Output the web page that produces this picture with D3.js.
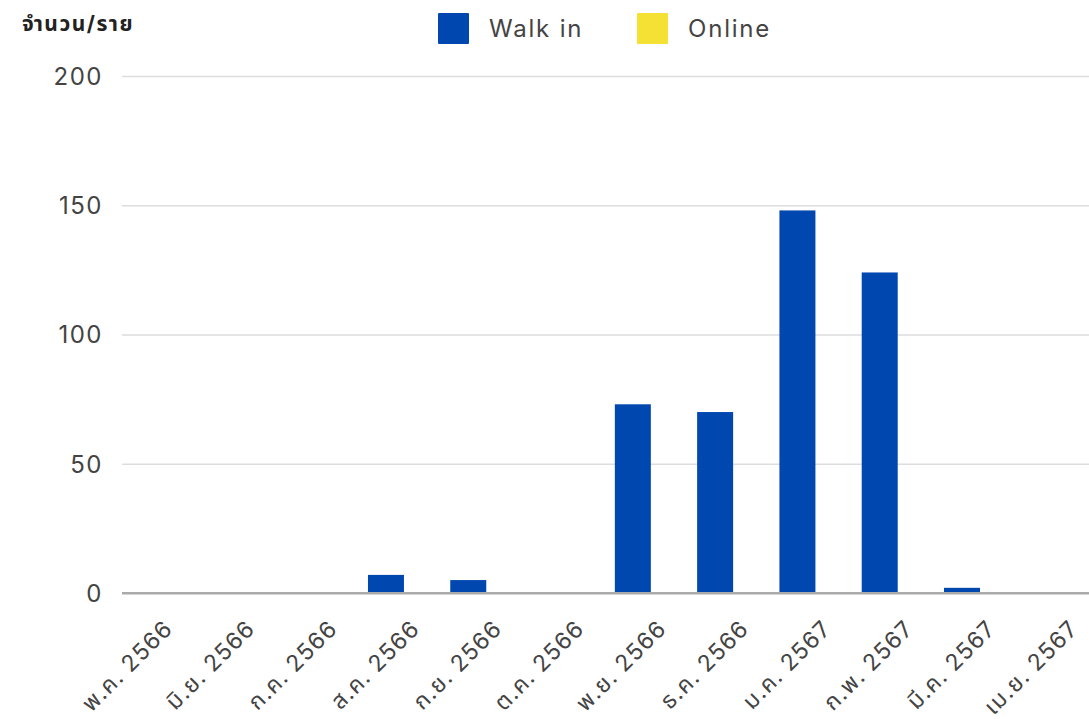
<!DOCTYPE html>
<html>
<head>
<meta charset="utf-8">
<script src="https://cdn.jsdelivr.net/npm/d3@7/dist/d3.min.js"></script>
<style>
  html, body { margin: 0; padding: 0; background: #fff; }
  svg { display: block; }
  text { font-family: "Inter", "Noto Sans", "Noto Sans Thai", sans-serif; }
</style>
</head>
<body>
<svg id="chart" width="1089" height="719"></svg>
<script>
const categories = ["พ.ค. 2566","มิ.ย. 2566","ก.ค. 2566","ส.ค. 2566","ก.ย. 2566","ต.ค. 2566","พ.ย. 2566","ธ.ค. 2566","ม.ค. 2567","ก.พ. 2567","มี.ค. 2567","เม.ย. 2567"];
const walkIn = [0, 0, 0, 7, 5, 0, 73, 70, 148, 124, 2, 0];
const online = [0, 0, 0, 0, 0, 0, 0, 0, 0, 0, 0, 0];
const seriesNames = ["Walk in", "Online"];
const seriesColors = ["#0047b0", "#f5e133"];
const yTicks = [0, 50, 100, 150, 200];
const yTitle = "จำนวน/ราย";

const svg = d3.select("#chart");
const plotTop = 76, plotBottom = 593, gridLeft = 122, gridRight = 1089;
const bandStart = 116.1, bandStep = 82.29;

const x = d3.scaleBand().domain(categories)
  .range([bandStart, bandStart + bandStep * categories.length]).padding(0);
const xs = d3.scaleBand().domain(seriesNames).range([5, 77]).padding(0);
const y = d3.scaleLinear().domain([0, 200]).range([plotBottom, plotTop]);

// gridlines + y labels
const yAxis = d3.axisLeft(y).tickValues(yTicks).tickSize(0).tickPadding(0).tickFormat(d3.format("d"));
const gY = svg.append("g").attr("transform", `translate(${gridLeft},0)`).call(yAxis);
gY.select(".domain").remove();
gY.selectAll(".tick line").remove();
gY.selectAll(".tick").append("line")
  .attr("x1", 0).attr("x2", gridRight - gridLeft)
  .attr("stroke", d => d === 0 ? "#aaaaaa" : "#dddddd")
  .attr("stroke-width", d => d === 0 ? 2 : 1.5);
gY.selectAll(".tick text")
  .attr("x", -19).attr("dy", "0.35em")
  .attr("fill", "#444").attr("font-size", 24).attr("letter-spacing", 1.5)
  .attr("text-anchor", "end");

// bars
const data = categories.map((c, i) => ({ c, vals: [walkIn[i], online[i]] }));
const groups = svg.append("g").selectAll("g").data(data).join("g")
  .attr("transform", d => `translate(${x(d.c)},0)`);
groups.selectAll("rect").data(d => d.vals.map((v, j) => ({ v, s: seriesNames[j], j })))
  .join("rect")
  .filter(d => d.v > 0)
  .attr("x", d => xs(d.s))
  .attr("width", xs.bandwidth())
  .attr("y", d => y(d.v))
  .attr("height", d => y(0) - y(d.v))
  .attr("fill", d => seriesColors[d.j]);

// zero line on top
svg.append("line").attr("x1", gridLeft).attr("x2", gridRight)
  .attr("y1", y(0)).attr("y2", y(0)).attr("stroke", "#aaaaaa").attr("stroke-width", 2);

// x axis labels
const xAxis = d3.axisBottom(x).tickSize(0).tickPadding(0);
const gX = svg.append("g").attr("transform", `translate(0,${plotBottom})`).call(xAxis);
gX.select(".domain").remove();
gX.selectAll(".tick text")
  .attr("text-anchor", "end")
  .attr("fill", "#444")
  .attr("font-size", 23)
  .attr("letter-spacing", 1.2)
  .attr("dy", 0).attr("y", 0).attr("x", 0)
  .attr("transform", "translate(17,37) rotate(-45)");

// y title
svg.append("text").attr("x", 22).attr("y", 31)
  .attr("font-size", 21).attr("font-weight", "bold").attr("fill", "#222")
  .attr("letter-spacing", 1.5)
  .text(yTitle);

// legend
const legendX = [438, 637];
const lg = svg.append("g").selectAll("g").data(seriesNames).join("g")
  .attr("transform", (d, i) => `translate(${legendX[i]},13)`);
lg.append("rect").attr("width", 31).attr("height", 31).attr("rx", 1)
  .attr("fill", (d, i) => seriesColors[i]);
lg.append("text").attr("x", 51).attr("y", 24)
  .attr("font-size", 24).attr("letter-spacing", 1.8).attr("fill", "#444").text(d => d);
</script>
</body>
</html>
